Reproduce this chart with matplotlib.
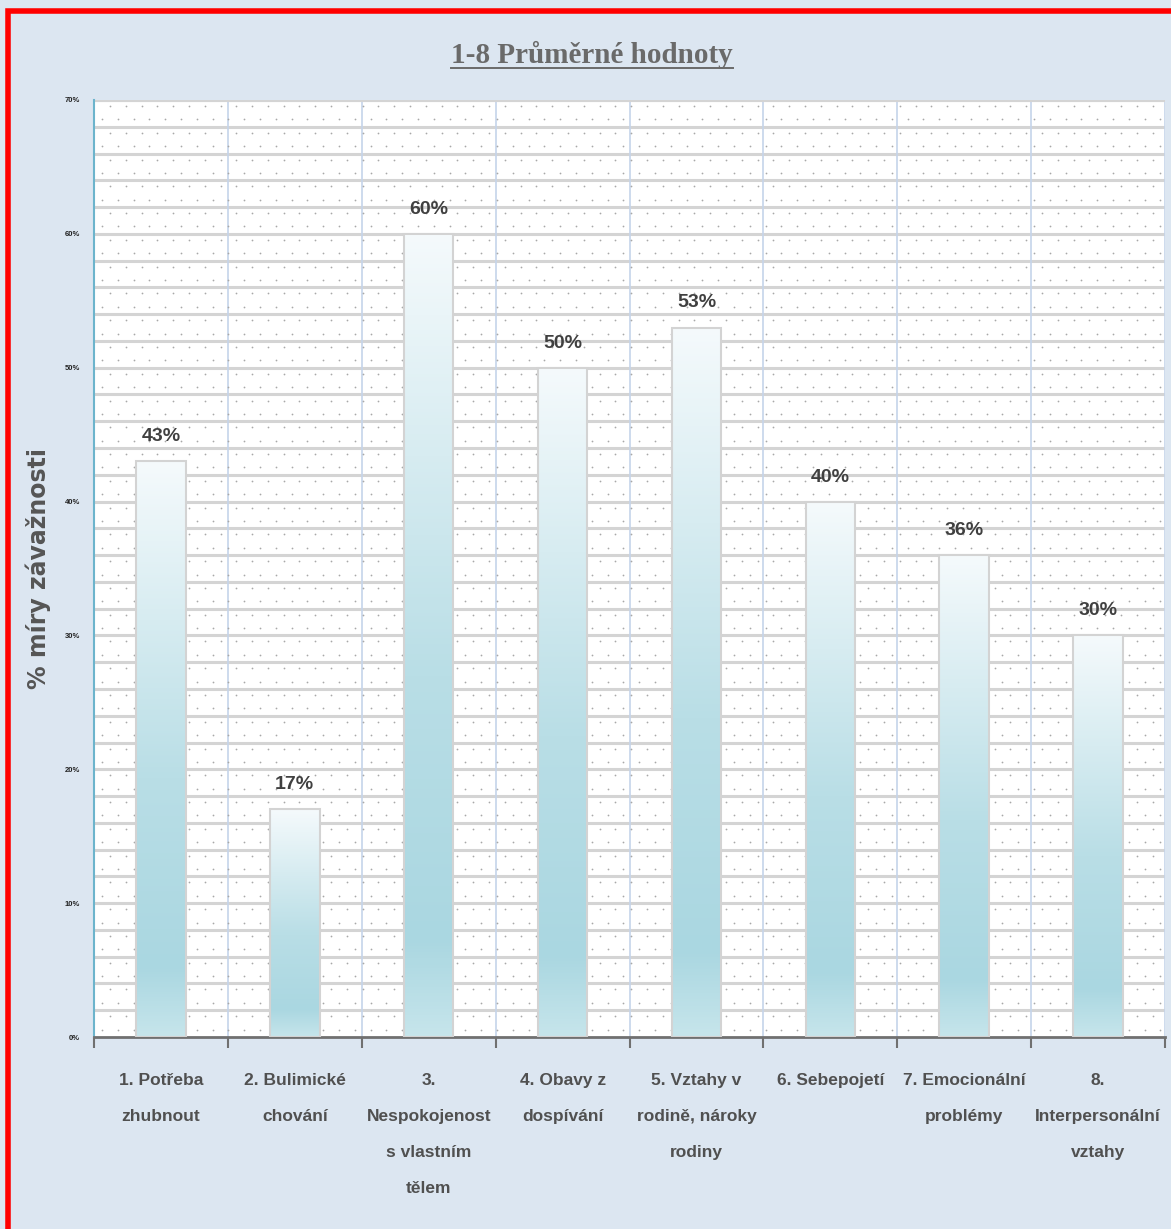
import matplotlib
matplotlib.use("Agg")
import matplotlib.pyplot as plt
import numpy as np
from matplotlib.colors import LinearSegmentedColormap
from matplotlib.patches import Rectangle
from matplotlib.lines import Line2D

categories = [
    "1. Potřeba\nzhubnout",
    "2. Bulimické\nchování",
    "3.\nNespokojenost\ns vlastním\ntělem",
    "4. Obavy z\ndospívání",
    "5. Vztahy v\nrodině, nároky\nrodiny",
    "6. Sebepojetí",
    "7. Emocionální\nproblémy",
    "8.\nInterpersonální\nvztahy",
]
values = [43, 17, 60, 50, 53, 40, 36, 30]
yticks = [0, 10, 20, 30, 40, 50, 60, 70]
title = "1-8 Průměrné hodnoty"
ylabel = "% míry závažnosti"

FONT = ["Liberation Sans Narrow", "Liberation Sans", "DejaVu Sans"]
TXT = "#404040"
BG = "#dce6f1"

fig = plt.figure(figsize=(11.71, 12.29), dpi=100, facecolor=BG)
ax = fig.add_axes([94 / 1171, 1 - 1037 / 1229, 1071 / 1171, 937 / 1229])
ax.set_facecolor("white")
n = len(categories)

# horizontal grid every 2 %
for y in np.arange(2, 71, 2):
    ax.axhline(y, color="#d4d4d4", lw=2.2, zorder=1)
# vertical category separators
for x in range(1, n + 1):
    ax.axvline(x, color="#c5d4ea", lw=1.2, zorder=1)

# dotted texture
dx = np.arange(0.06, n, 0.118)
dy = np.arange(0.55, 70, 1.0)
gx, gy = np.meshgrid(dx, dy)
gx = gx + (np.arange(len(dy))[:, None] % 2) * 0.059
ax.scatter(gx.ravel(), gy.ravel(), s=1.6, color="#a8a8a8", lw=0, zorder=1)

# gradient bars
cmap = LinearSegmentedColormap.from_list(
    "bar", [(0.0, "#c6e5eb"), (0.12, "#aad7e1"), (0.45, "#b9dee6"), (1.0, "#f5fafc")])
grad = np.linspace(0, 1, 256).reshape(-1, 1)
bw = 0.37
centers = np.arange(n) + 0.5
for c, v in zip(centers, values):
    ax.imshow(grad, cmap=cmap, origin="lower", aspect="auto",
              extent=(c - bw / 2, c + bw / 2, 0, v), zorder=2)
    ax.add_patch(Rectangle((c - bw / 2, 0), bw, v, fill=False,
                           ec="#d3d3d3", lw=1.5, zorder=3))
    ax.text(c, v + 1.2, f"{v}%", ha="center", va="bottom", fontsize=14,
            fontweight="bold", color=TXT, family=FONT, zorder=4)
ax.set_xlim(0, n)
ax.set_ylim(0, 70)

ax.set_yticks(yticks)
ax.set_yticklabels([f"{t}%" for t in yticks], fontsize=5.5, fontweight="bold",
                   color="#222222", family=FONT)
ax.tick_params(axis="y", length=0, pad=10)
ax.set_xticks(range(n + 1))
ax.set_xticklabels([])
ax.tick_params(axis="x", length=8, width=1.5, color="#707070", direction="out")
for c, lab in zip(centers, categories):
    ax.text(c, -2.7, lab, ha="center", va="top", fontsize=12.5, fontweight="bold",
            color="#505050", family=FONT, linespacing=2.75)

for s in ["top", "right"]:
    ax.spines[s].set_visible(False)
ax.spines["left"].set_color("#6cb4cc")
ax.spines["left"].set_linewidth(1.5)
ax.spines["bottom"].set_color("#707070")
ax.spines["bottom"].set_linewidth(2)
ax.axhline(70, color="#d4d4d4", lw=2.2, zorder=1)

ax.set_ylabel(ylabel, fontsize=17, fontweight="bold", color="#555555",
              family="DejaVu Sans")
ax.yaxis.set_label_coords(-0.040, 0.5)

t = fig.text(592 / 1171, 1 - 55 / 1229, title, ha="center", va="center",
             fontsize=21, fontweight="bold", color="#6a6a6a",
             family=["Liberation Serif", "DejaVu Serif"])
fig.canvas.draw()
bb = t.get_window_extent().transformed(fig.transFigure.inverted())
fig.add_artist(Line2D([bb.x0, bb.x1], [bb.y0 + 0.001, bb.y0 + 0.001],
                      transform=fig.transFigure, color="#6a6a6a", lw=1.4))

fig.add_artist(Rectangle((8 / 1171, -0.1), 1.2, 1.1 - 11 / 1229, transform=fig.transFigure,
                         fill=False, ec="#ff0000", lw=4))

fig.savefig("out.png", dpi=100, facecolor=BG)
